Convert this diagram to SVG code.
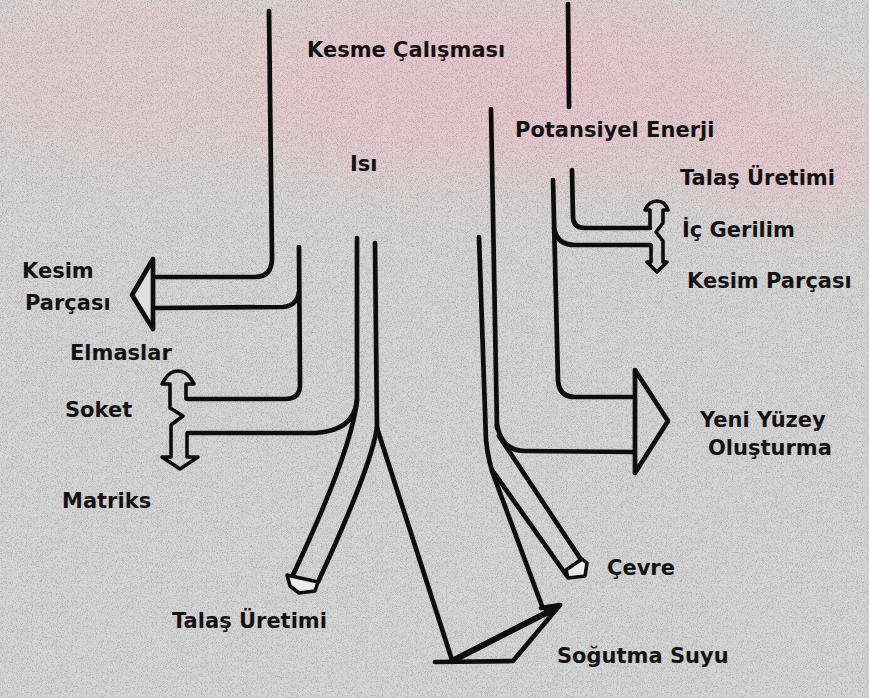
<svg xmlns="http://www.w3.org/2000/svg" width="869" height="698" viewBox="0 0 869 698">
<defs>
<style>
.ln{fill:none;stroke:#0e0e0e;stroke-width:4.7;stroke-linecap:round;stroke-linejoin:round}
.sym{fill:none;stroke:#0e0e0e;stroke-width:3.6;stroke-linejoin:round;stroke-linecap:round}
.cap{fill:#ececec;stroke:#0e0e0e;stroke-width:3.5;stroke-linejoin:round}
.t{font-family:"DejaVu Sans","Liberation Sans",sans-serif;font-weight:bold;font-size:21px;fill:#151215}
</style>
<filter id="noise" x="0" y="0" width="100%" height="100%">
<feTurbulence type="fractalNoise" baseFrequency="1.2" numOctaves="1" seed="4"/>
<feColorMatrix type="matrix" values="0 0 0 0 0  0 0 0 0 0  0 0 0 0 0  1.6 0 0 0 -0.75"/>
</filter>
<filter id="blur" x="-50%" y="-50%" width="200%" height="200%"><feGaussianBlur stdDeviation="30"/></filter>
</defs>
<g id="background">
<rect x="0" y="0" width="869" height="698" fill="#d4d4d4"/>
<g filter="url(#blur)" opacity="0.85">
<ellipse cx="480" cy="85" rx="300" ry="90" fill="#e9c6cd"/>
<ellipse cx="140" cy="70" rx="170" ry="75" fill="#e4cbcf"/>
<ellipse cx="790" cy="150" rx="110" ry="60" fill="#e8c8ce"/>
</g>
<rect x="0" y="0" width="869" height="698" fill="#000" filter="url(#noise)" opacity="0.35"/>
</g>
<g id="connectors">
<path class="ln" d="M269,11 L272,258 Q272,277 255,277 L156,277"/>
<path class="ln" d="M156,308 L283,307 Q297,306 299,292"/>
<path class="ln" d="M299,247 L300,385 Q300,399 285,399 L188,399"/>
<path class="ln" d="M357,238 L357,400 Q354,431 315,433 L188,433"/>
<path class="ln" d="M357,400 Q352,450 292,577"/>
<path class="ln" d="M375,243 L377,428"/>
<path class="ln" d="M377,428 Q370,470 318,582"/>
<path class="ln" d="M377,428 L452,660"/>
<path class="ln" d="M568,4 L569,107"/>
<path class="ln" d="M491,109 L497,428"/>
<path class="ln" d="M497,425 Q502,451 525,451 L634,452"/>
<path class="ln" d="M499,436 L582,561"/>
<path class="ln" d="M479,237 L486,440 Q488,462 496,482 L542,606"/>
<path class="ln" d="M492,470 L567,576"/>
<path class="ln" d="M553,180 L558,380 Q559,397 575,397 L634,397"/>
<path class="ln" d="M554,228 Q557,245 575,245 L650,245"/>
<path class="ln" d="M572,170 L573,218 Q574,228 585,228 L650,228"/>
</g>
<g id="arrows">
<polygon class="cap" points="153,259 132,295 153,329" style="fill:#dedede;stroke-width:4.7"/>
<polygon class="cap" points="635,370 668,421 635,473" style="fill:none;stroke-width:4.7"/>
<polygon class="cap" points="287,575 318,582 315,591 299,593 290,586"/>
<polygon class="cap" points="566,570 582,559 587,563 585,576 568,578"/>
<path class="ln" d="M435,662 L513,661 L560,605 L541,608"/>
<path class="ln" d="M452,661 L554,609" style="stroke-width:6"/>
<polygon points="540,606 562,603 550,619" fill="#0e0e0e"/>
<path class="sym" d="M186,399 L186,384 L194,384 L191,379 Q186,371 178,371 Q170,371 165,379 L162,384 L170,384 L170,408 L183,416 L171,425 L171,457 L162,457 L180,469 L198,457 L187,457 L187,433"/>
<path class="sym" d="M650,228 L650,210 L645,210 Q649,201 657,201 Q665,201 668,210 L663,210 L663,223 L656,232 L663,241 L663,262 L667,262 L657,272 L647,262 L651,262 L651,245"/>
</g>
<g id="node-kesme"><text class="t" x="307" y="57">Kesme Çalışması</text></g>
<g id="node-potansiyel"><text class="t" x="515" y="137">Potansiyel Enerji</text></g>
<g id="node-isi"><text class="t" x="350" y="171">Isı</text></g>
<g id="node-talas-sag"><text class="t" x="680" y="185">Talaş Üretimi</text></g>
<g id="node-ic-gerilim"><text class="t" x="682" y="237">İç Gerilim</text></g>
<g id="node-kesim-sag"><text class="t" x="687" y="288">Kesim Parçası</text></g>
<g id="node-kesim-sol"><text class="t" x="22" y="278">Kesim</text><text class="t" x="25" y="310">Parçası</text></g>
<g id="node-elmaslar"><text class="t" x="70" y="360">Elmaslar</text></g>
<g id="node-soket"><text class="t" x="65" y="417">Soket</text></g>
<g id="node-matriks"><text class="t" x="62" y="508">Matriks</text></g>
<g id="node-yeni-yuzey"><text class="t" x="700" y="427">Yeni Yüzey</text><text class="t" x="708" y="455">Oluşturma</text></g>
<g id="node-cevre"><text class="t" x="607" y="575">Çevre</text></g>
<g id="node-talas-alt"><text class="t" x="172" y="628">Talaş Üretimi</text></g>
<g id="node-sogutma"><text class="t" x="557" y="663">Soğutma Suyu</text></g>
</svg>
